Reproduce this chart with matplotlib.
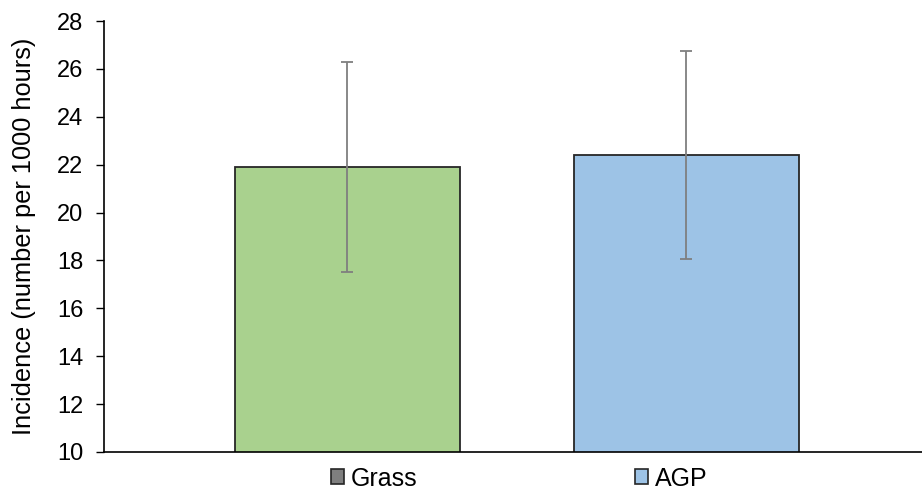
import matplotlib
matplotlib.use('Agg')
import matplotlib.pyplot as plt
from matplotlib.patches import Patch

plt.rcParams['font.family'] = ['Liberation Sans', 'DejaVu Sans']

groups = ["Grass", "AGP"]
incidence = [21.9, 22.4]
incidence_err = [4.4, 4.35]
bar_colors = ["#A9D18E", "#9DC3E6"]
legend_colors = ["#7F7F7F", "#9DC3E6"]  # the original legend shows grey for Grass
y_ticks = [10, 12, 14, 16, 18, 20, 22, 24, 26, 28]

fig = plt.figure(figsize=(9.22, 4.93), dpi=100)
ax = fig.add_axes([0.1128, 0.0832, 0.8872, 0.8742])

x = range(len(groups))
ax.bar(x, incidence, width=0.664, bottom=0, color=bar_colors,
       edgecolor="#262626", linewidth=1.3, zorder=2)
ax.errorbar(x, incidence, yerr=incidence_err, fmt="none", ecolor="#7F7F7F",
            elinewidth=1.3, capsize=4.5, capthick=1.3, zorder=3)

ax.set_ylim(10, 28)
ax.set_xlim(-0.718, 1.695)
ax.set_yticks(y_ticks)
ax.set_xticks([])
ax.tick_params(axis="y", direction="out", length=6, width=1, labelsize=17, pad=9)
for side in ["top", "right"]:
    ax.spines[side].set_visible(False)
ax.spines["left"].set_linewidth(1.2)
ax.spines["bottom"].set_linewidth(1.2)
ax.set_ylabel("Incidence (number per 1000 hours)", fontsize=18.3, labelpad=15)

handles = [Patch(facecolor=c, edgecolor="#262626", linewidth=1.2) for c in legend_colors]
ax.legend(handles, groups, loc="upper center", bbox_to_anchor=(0.508, -0.034),
          ncol=2, frameon=False, fontsize=18, handlelength=0.52, handleheight=0.52,
          handletextpad=0.28, columnspacing=8.7, borderaxespad=0, borderpad=0)

fig.savefig("out.png", dpi=100)
